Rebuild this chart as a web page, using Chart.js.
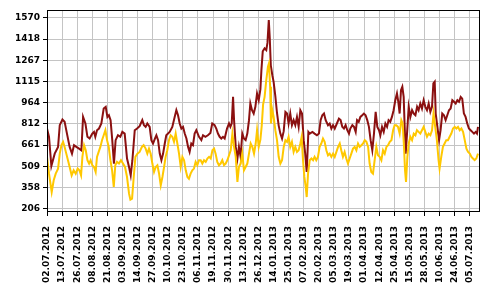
<!DOCTYPE html>
<html>
<head>
<meta charset="utf-8">
<script src="https://cdn.jsdelivr.net/npm/chart.js@4.4.0/dist/chart.umd.min.js"></script>
<style>
  body { margin: 0; background: #fff; }
  canvas { display: block; }
</style>
</head>
<body>
<canvas id="priceChart" width="495" height="300"></canvas>
<script>
// Axis labels (one label every 9 trading days)
const dateLabels = [
  "02.07.2012", "13.07.2012", "26.07.2012", "08.08.2012", "21.08.2012",
  "03.09.2012", "14.09.2012", "27.09.2012", "10.10.2012", "23.10.2012",
  "06.11.2012", "19.11.2012", "30.11.2012", "13.12.2012", "26.12.2012",
  "14.01.2013", "25.01.2013", "07.02.2013", "20.02.2013", "05.03.2013",
  "19.03.2013", "01.04.2013", "12.04.2013", "25.04.2013", "15.05.2013",
  "28.05.2013", "10.06.2013", "24.06.2013", "05.07.2013",
];
const LABEL_STEP = 9;
const yTicks = [206, 358, 509, 661, 812, 964, 1115, 1267, 1418, 1570];

// Dark red series: trading day index and value
const darkDays = [
  0, 1.2, 2.6, 4.6, 6.6, 7.6, 9.2, 10.5, 11.9, 13.5, 14.9, 16.1, 17.5, 19.1, 20.5,
  21.5, 22.9, 24.1, 25.4, 27, 28, 28.8, 29.8, 31, 32.4, 33.8, 35, 36, 36.9, 37.9,
  38.9, 39.9, 40.9, 42.3, 43.7, 44.9, 46.3, 47.7, 48.9, 49.9, 50.9, 52.3, 53.7,
  55.2, 56.8, 57.8, 58.8, 59.8, 61.2, 62.2, 63.2, 64.4, 65.2, 66.2, 67.2, 68.2,
  69.2, 70.2, 71.1, 73.1, 74.7, 76.1, 77.1, 78.1, 79.1, 80.1, 81.1, 82.1, 83.1,
  84.1, 85, 86, 87, 88, 89, 90.6, 92, 93, 94.4, 95.9, 97.4, 98.5, 99.9, 100.9,
  101.9, 102.9, 103.9, 104.9, 105.9, 107.3, 108.5, 109.3, 110.1, 110.9, 111.5,
  112.5, 113.5, 114.4, 115.4, 116.4, 117.4, 118.4, 119.4, 120.4, 121.2, 122.2,
  123.2, 124.2, 125.2, 126.2, 127.2, 127.8, 128.6, 129.7, 130.7, 131.4, 132.2,
  132.8, 133.4, 134.3, 135.1, 136.1, 137.1, 138.1, 139.1, 140.1, 141.1, 142.1,
  143.1, 144, 145, 146, 147, 148, 149, 150, 151, 152, 153, 153.9, 154.8, 155.8,
  156.6, 158.2, 159.5, 160.9, 162.1, 163.1, 164.1, 165.1, 166.1, 167.5, 168.5,
  169.5, 170.5, 171.5, 172.8, 174, 175, 176, 177, 178, 179, 180, 180.8, 182, 183,
  184, 184.8, 185.8, 186.8, 187.9, 188.9, 189.9, 190.9, 191.9, 192.9, 193.9,
  194.9, 195.9, 196.9, 197.9, 198.7, 199.7, 200.7, 201.7, 202.7, 203.6, 204.6,
  205.6, 206.6, 207.6, 208.6, 209.4, 210.2, 211, 211.8, 212.6, 213.2, 213.8,
  214.6, 215.6, 216.6, 217.6, 218.6, 219.6, 220.6, 221.5, 222.5, 223.5, 224.5,
  225.5, 226.5, 227.5, 228.5, 229.5, 230.3, 231.1, 231.7, 232.7, 233.7, 234.6,
  235.6, 236.6, 237.6, 238.6, 239.6, 240.6, 241.6, 242.6, 243.6, 244.6, 245.6,
  246.6, 247.5, 248.5, 249.5, 250.5, 251.5, 252.5, 253.5, 254.5, 255.5, 256.3,
  256.9,
];
const darkValues = [
  779, 720, 512, 600, 648, 803, 843, 827, 743, 648, 600, 660, 648, 636, 624,
  862, 815, 720, 708, 743, 755, 720, 767, 779, 815, 922, 934, 862, 874, 839,
  696, 529, 696, 731, 720, 755, 743, 565, 505, 445, 553, 767, 779,
  796, 839, 803, 791, 815, 791, 696, 672, 708, 731, 696, 600, 553,
  600, 672, 731, 755, 791, 862, 910, 874, 815, 779, 791, 743, 708,
  648, 612, 672, 660, 743, 767, 720, 696, 731, 720, 731, 748, 815, 803, 779,
  743, 720, 708, 720, 708, 779, 815, 791, 815, 1005, 839,
  648, 565, 648, 577, 743, 708, 696, 743, 839, 958, 910,
  886, 934, 1029, 981, 1060, 1196, 1330, 1351, 1339, 1390, 1554,
  1420, 1230, 1160, 1110, 1010, 890, 800, 743, 708, 760, 898,
  886, 815, 886, 803, 839, 803, 862, 791, 910, 886, 696, 600, 469, 755,
  743, 755, 743, 731, 743, 839, 874, 886, 839, 803, 815,
  779, 803, 779, 815, 850, 839, 791, 779, 803, 767, 743, 779, 803, 791,
  755, 839, 827, 862, 874, 886, 874, 839, 791, 696, 624,
  743, 898, 791, 767, 731, 791, 755, 815, 791, 839, 827,
  862, 910, 981, 1029, 970, 886, 1053, 1077, 1005, 791, 600,
  743, 934, 862, 910, 886, 874, 934, 910, 958, 922, 981,
  934, 910, 958, 898, 934, 1101, 1113, 886, 791, 696, 767,
  886, 874, 839, 874, 910, 922, 981, 970, 958, 981, 970,
  1005, 993, 886, 862, 815, 779, 767, 755, 743, 755, 743,
  791,
];

// Yellow series: trading day index and value
const lightDays = [
  0, 1.2, 2.8, 4, 5.2, 6.6, 7.6, 8.6, 9.6, 10.5, 11.5, 12.5, 13.5, 14.7, 15.9,
  17.1, 18.3, 19.3, 20.3, 21.1, 22.1, 23.1, 24.1, 25.1, 26, 27, 28, 29, 29.8,
  30.8, 31.8, 32.8, 33.8, 34.8, 35.8, 36.8, 37.8, 38.8, 39.8, 40.7, 41.7, 42.9,
  44.1, 45.3, 46.5, 47.7, 48.9, 49.7, 50.7, 51.7, 52.7, 53.9, 55.2, 56.6, 57.6,
  58.8, 59.8, 60.8, 61.8, 62.8, 63.8, 64.8, 65.8, 66.8, 67.8, 68.8, 69.8, 70.7,
  71.7, 72.7, 73.7, 74.7, 75.7, 76.7, 77.7, 78.7, 79.7, 80.7, 81.7, 82.7, 83.7,
  84.6, 85.6, 86.6, 87.6, 88.6, 89.6, 90.6, 91.6, 92.6, 93.6, 94.6, 95.6, 96.6,
  97.6, 98.6, 99.6, 100.5, 101.5, 102.5, 103.5, 104.5, 105.5, 106.5, 107.5,
  108.5, 109.5, 110.5, 111.5, 112.5, 113.5, 114.4, 115.4, 116.4, 117.4, 118.4,
  119.4, 120.4, 121.4, 122.4, 123.4, 124.4, 125.2, 126.2, 127.2, 128, 128.8,
  129.7, 130.7, 131.7, 132.3, 133, 133.5, 134.3, 135.1, 136.1, 137.1, 138.1,
  139.1, 140.1, 141.1, 142.1, 143.1, 144, 145, 146, 147, 148, 149, 150, 151,
  151.8, 152.6, 153.4, 154.2, 154.8, 155.6, 156.6, 157.6, 158.6, 159.5, 160.5,
  161.5, 162.5, 163.5, 164.5, 165.5, 166.5, 167.5, 168.5, 169.5, 170.5, 171.5,
  172.5, 173.5, 174.5, 175.4, 176.4, 177.4, 178.4, 179.4, 180.4, 181.4, 182.4,
  183.4, 184.4, 185.4, 186.4, 187.4, 188.4, 189.4, 190.4, 191.4, 192.3, 193.3,
  194.3, 195.3, 196.3, 197.3, 198.3, 199.3, 200.3, 201.3, 202.3, 203.3, 204.3,
  205.3, 206.3, 207.2, 208.2, 209.2, 210.2, 211.2, 212, 212.8, 213.4, 214,
  214.8, 215.6, 216.6, 217.6, 218.6, 219.6, 220.5, 221.5, 222.5, 223.5, 224.5,
  225.5, 226.5, 227.5, 228.5, 229.5, 230.4, 231.4, 232.4, 233.4, 234, 235, 236,
  237, 238, 239, 240, 241, 242, 243, 244, 245, 246, 247, 248, 249, 250, 251,
  252, 253, 253.9, 254.9, 255.9, 256.9,
];
const lightValues = [
  577, 457, 326, 410, 457, 493, 600, 660, 684, 648, 600, 553, 505, 445, 481,
  457, 493, 481, 445, 577, 660, 624, 553, 529, 553, 517, 505, 469, 577,
  612, 648, 696, 731, 767, 696, 648, 553, 481, 362, 517, 541, 529,
  553, 529, 505, 433, 314, 272, 279, 433, 577, 600, 612, 648, 660,
  636, 600, 636, 600, 529, 469, 505, 517, 457, 374, 433, 505, 577,
  624, 696, 731, 720, 684, 743, 672, 600, 505, 577, 553, 481, 433,
  421, 457, 481, 493, 541, 517, 553, 553, 529, 553, 541, 565, 577,
  565, 624, 636, 600, 541, 517, 529, 553, 517, 529, 553,
  588, 624, 743, 648, 577, 398, 505, 529, 600, 481, 505,
  529, 600, 672, 648, 600, 672, 767, 648, 700, 800, 950,
  1005, 1124, 1220, 1244, 1077, 815, 910, 862, 767, 696, 577,
  529, 553, 648, 696, 684, 720, 648, 684, 612, 648, 612, 624, 672,
  720, 553, 434, 362, 290, 457, 553, 565, 553, 577, 553,
  577, 648, 672, 708, 684, 624, 588, 600, 577, 600, 577,
  612, 648, 672, 624, 577, 612, 565, 529, 565, 600, 636,
  648, 624, 672, 648, 660, 672, 696, 684, 648, 529, 469,
  457, 553, 648, 588, 577, 553, 624, 600, 648, 660, 684,
  696, 767, 803, 803, 791, 743, 839, 815, 648, 481, 398,
  577, 672, 720, 696, 743, 731, 767, 755, 743, 767, 791,
  755, 720, 743, 731, 767, 887, 791, 696, 553, 493, 577, 648,
  672, 696, 696, 720, 743, 779, 791, 779, 791, 767, 779, 755, 696, 636, 612,
  600, 577, 565, 553, 565, 600,
];

// Build {x, y} points from the parallel arrays
function toPoints(days, values) {
  return days.map((d, i) => ({ x: d, y: values[i] }));
}

// Black frame round the plot area
const framePlugin = {
  id: "frame",
  afterDraw(chart) {
    const { ctx, chartArea } = chart;
    ctx.save();
    ctx.strokeStyle = "#000";
    ctx.lineWidth = 1;
    ctx.strokeRect(
      Math.round(chartArea.left) + 0.5,
      Math.round(chartArea.top) + 0.5,
      Math.round(chartArea.right - chartArea.left),
      Math.round(chartArea.bottom - chartArea.top)
    );
    ctx.restore();
  },
};

document.addEventListener("DOMContentLoaded", function () {
  const ctx = document.getElementById("priceChart").getContext("2d");
  new Chart(ctx, {
    type: "line",
    data: {
      datasets: [
        {
          data: toPoints(lightDays, lightValues),
          borderColor: "#ffc800",
          borderWidth: 2,
          pointRadius: 0,
          tension: 0,
          order: 0,
        },
        {
          data: toPoints(darkDays, darkValues),
          borderColor: "#8b1010",
          borderWidth: 2,
          pointRadius: 0,
          tension: 0,
          order: 1,
        },
      ],
    },
    options: {
      responsive: false,
      animation: false,
      layout: { padding: { top: 10, right: 16, left: 0, bottom: 0 } },
      plugins: {
        legend: { display: false },
        tooltip: { enabled: false },
      },
      scales: {
        x: {
          type: "linear",
          min: 0,
          max: 257.5,
          afterBuildTicks: (scale) => {
            scale.ticks = dateLabels.map((_, i) => ({ value: i * LABEL_STEP }));
          },
          afterFit: (scale) => {
            scale.height = 89;
          },
          ticks: {
            autoSkip: false,
            minRotation: 90,
            maxRotation: 90,
            padding: 10,
            color: "#000",
            font: { family: "DejaVu Sans", size: 9, weight: "bold" },
            callback: (value) => dateLabels[Math.round(value / LABEL_STEP)],
          },
          grid: {
            color: "#c4c4c4",
            tickColor: "#000",
            tickLength: 5,
          },
          border: { color: "#000" },
        },
        y: {
          min: 190.5,
          max: 1625,
          afterBuildTicks: (scale) => {
            scale.ticks = yTicks.map((v) => ({ value: v }));
          },
          afterFit: (scale) => {
            scale.width = 47;
          },
          ticks: {
            padding: 3,
            color: "#000",
            font: { family: "DejaVu Sans", size: 9, weight: "bold" },
            callback: (value) => String(value),
          },
          grid: {
            color: "#c4c4c4",
            tickColor: "#000",
            tickLength: 4,
          },
          border: { color: "#000" },
        },
      },
    },
    plugins: [framePlugin],
  });
});
</script>
</body>
</html>
